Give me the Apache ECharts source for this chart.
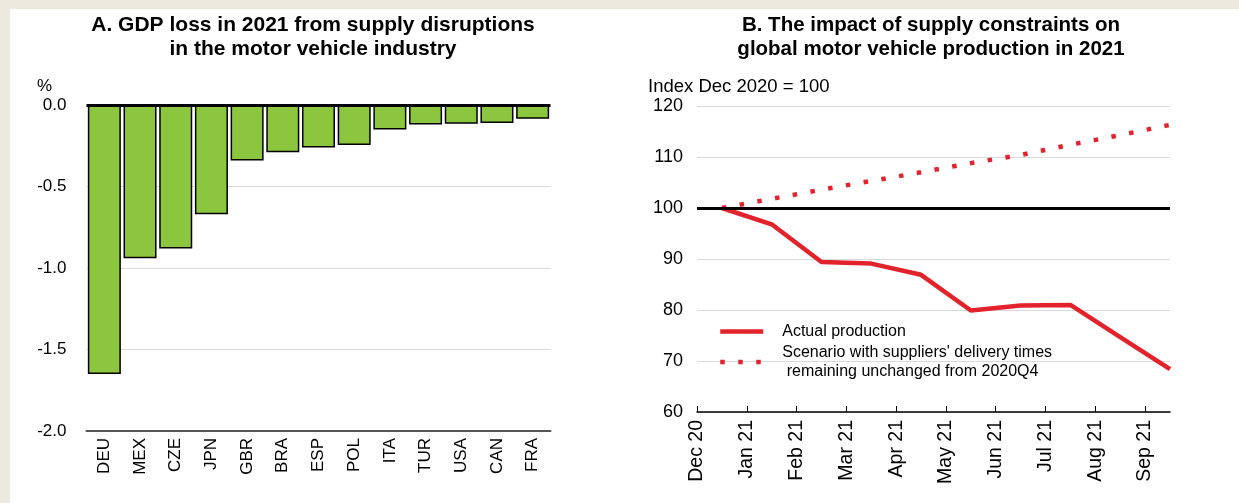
<!DOCTYPE html>
<html>
<head>
<meta charset="utf-8">
<script src="https://cdn.jsdelivr.net/npm/echarts@6/dist/echarts.min.js"></script>
<style>
  body { margin: 0; background: #ece9df; }
  #chart { position: absolute; left: 10px; top: 9px; width: 1229px; height: 494px; background: #fff; }
</style>
</head>
<body>
<div id="chart"></div>
<script>
// panel A data
var countries = ["DEU", "MEX", "CZE", "JPN", "GBR", "BRA", "ESP", "POL", "ITA", "TUR", "USA", "CAN", "FRA"];
var gdpLoss = [-1.65, -0.94, -0.88, -0.67, -0.34, -0.29, -0.26, -0.245, -0.15, -0.12, -0.115, -0.11, -0.085];

// panel B data (monthly, plotted mid-month)
var months = ["Dec 20", "Jan 21", "Feb 21", "Mar 21", "Apr 21", "May 21", "Jun 21", "Jul 21", "Aug 21", "Sep 21"];
var actualProd = [100, 96.8, 89.4, 89.1, 86.9, 79.9, 80.9, 81.0, 74.7, 68.4];
var scenario = [100, 101.8, 103.6, 105.3, 107.0, 108.8, 110.4, 112.4, 114.3, 116.3];

var FONT = "'Liberation Sans', Arial, sans-serif";
var RED = "#e2232b";

function monthPairs(vals) {
  return vals.map(function (v, i) { return [i + 0.5, v]; });
}

var myChart = echarts.init(document.getElementById("chart"));

var option = {
  animation: false,
  textStyle: { fontFamily: FONT, color: "#000" },
  graphic: [
    {
      type: "text", x: 303, y: 4,
      style: {
        text: "A. GDP loss in 2021 from supply disruptions\nin the motor vehicle industry",
        font: "bold 21px " + FONT, fill: "#000", textAlign: "center", lineHeight: 24
      }
    },
    {
      type: "text", x: 921, y: 4,
      style: {
        text: "B. The impact of supply constraints on\nglobal motor vehicle production in 2021",
        font: "bold 20.5px " + FONT, fill: "#000", textAlign: "center", lineHeight: 24
      }
    },
    {
      type: "text", x: 27, y: 69,
      style: { text: "%", font: "17px " + FONT, fill: "#000" }
    },
    {
      type: "text", x: 638, y: 68,
      style: { text: "Index Dec 2020 = 100", font: "18.5px " + FONT, fill: "#000" }
    }
  ],
  grid: [
    { left: 76.5, top: 96, width: 464, height: 326 },
    { left: 687, top: 97, width: 473, height: 306 }
  ],
  legend: {
    orient: "vertical",
    left: 703,
    top: 308,
    itemWidth: 43,
    itemHeight: 14,
    itemGap: 2,
    itemStyle: { opacity: 0 },
    lineStyle: { width: 4.5 },
    textStyle: { fontSize: 16, lineHeight: 19, color: "#000", padding: [0, 0, 0, 14] },
    data: ["Actual production", "Scenario with suppliers' delivery times\n remaining unchanged from 2020Q4"]
  },
  xAxis: [
    {
      type: "category",
      gridIndex: 0,
      data: countries,
      axisLine: { onZero: false, lineStyle: { color: "#555", width: 2 } },
      axisTick: { show: false },
      axisLabel: { rotate: 90, fontSize: 17, color: "#000", margin: 7 }
    },
    {
      type: "value",
      gridIndex: 1,
      min: 0,
      max: 9.5,
      interval: 1,
      splitLine: { show: false },
      axisLine: { onZero: false, lineStyle: { color: "#000", width: 1.5 } },
      axisTick: { show: true, inside: true, length: 6, lineStyle: { color: "#000" }, customValues: [0, 1, 2, 3, 4, 5, 6, 7, 8, 9] },
      axisLabel: {
        rotate: 90, fontSize: 19.5, color: "#000", margin: 8,
        customValues: [0, 1, 2, 3, 4, 5, 6, 7, 8, 9],
        formatter: function (v) { return months[Math.round(v)] || ""; }
      }
    }
  ],
  yAxis: [
    {
      type: "value",
      gridIndex: 0,
      min: -2,
      max: 0,
      interval: 0.5,
      axisLine: { show: false },
      axisTick: { show: false },
      axisLabel: { fontSize: 17, color: "#000", margin: 20, formatter: function (v) { return v.toFixed(1); } },
      splitLine: { lineStyle: { color: "#d9d9d9", width: 1 } }
    },
    {
      type: "value",
      gridIndex: 1,
      min: 60,
      max: 120,
      interval: 10,
      axisLine: { show: false },
      axisTick: { show: false },
      axisLabel: { fontSize: 18, color: "#000", margin: 14 },
      splitLine: { lineStyle: { color: "#d9d9d9", width: 1 } }
    }
  ],
  series: [
    {
      name: "GDP loss",
      type: "bar",
      xAxisIndex: 0,
      yAxisIndex: 0,
      data: gdpLoss,
      barCategoryGap: "7.5%",
      itemStyle: { color: "#8cc63f", borderColor: "#000", borderWidth: 1.5 },
      markLine: {
        silent: true,
        symbol: "none",
        label: { show: false },
        lineStyle: { color: "#000", width: 3, type: "solid" },
        data: [{ yAxis: 0 }]
      }
    },
    {
      name: "Actual production",
      type: "line",
      xAxisIndex: 1,
      yAxisIndex: 1,
      data: monthPairs(actualProd),
      symbol: "none",
      color: RED,
      lineStyle: { color: RED, width: 4.5 },
      z: 3,
      markLine: {
        silent: true,
        symbol: "none",
        label: { show: false },
        lineStyle: { color: "#000", width: 3, type: "solid" },
        data: [{ yAxis: 100 }]
      }
    },
    {
      name: "Scenario with suppliers' delivery times\n remaining unchanged from 2020Q4",
      type: "line",
      xAxisIndex: 1,
      yAxisIndex: 1,
      data: monthPairs(scenario),
      symbol: "none",
      color: RED,
      lineStyle: { color: RED, width: 4.5, type: [4.5, 13.5], cap: "butt" },
      z: 3
    }
  ]
};

myChart.setOption(option);
</script>
</body>
</html>
